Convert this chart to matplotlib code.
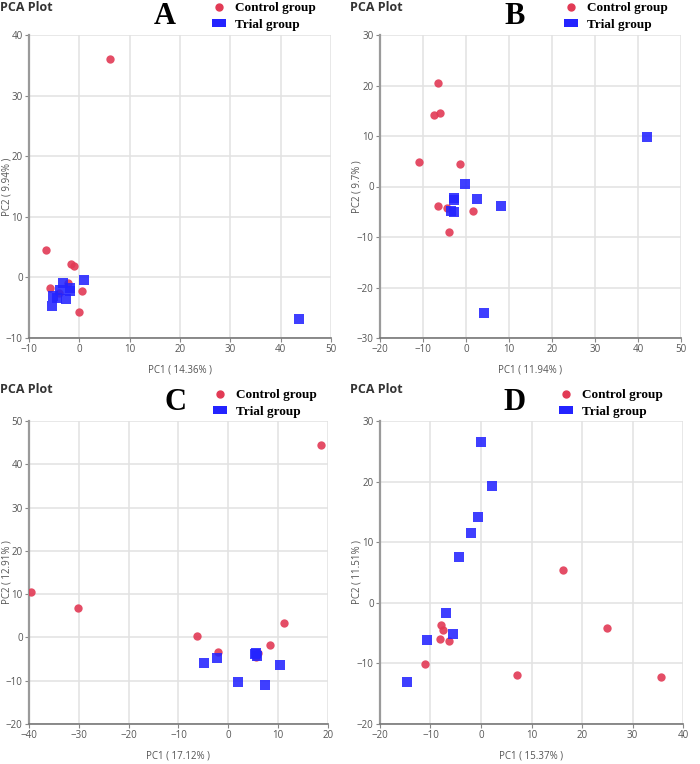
import matplotlib
matplotlib.use("Agg")
import matplotlib.pyplot as plt
from matplotlib.lines import Line2D
from matplotlib.patches import Patch

# ---------------- data ----------------
# Panel A
a_ctrl_x = [6.1, -6.7, -1.7, -1.0, -5.9, -2.3, -4.0, 0.45, -0.1]
a_ctrl_y = [36.0, 4.6, 2.2, 1.8, -1.8, -0.9, -2.6, -2.3, -5.7]
a_trial_x = [0.9, -3.2, -1.9, -1.9, -3.8, -5.2, -4.5, -2.6, -5.5, 43.6]
a_trial_y = [-0.5, -1.0, -1.8, -2.3, -2.0, -3.1, -3.4, -3.5, -4.7, -6.8]
# Panel B
b_ctrl_x = [-6.5, -7.35, -6.1, -10.9, -1.45, -6.5, -4.5, 1.65, -3.9]
b_ctrl_y = [20.5, 14.2, 14.5, 4.9, 4.4, -3.95, -4.2, -4.9, -9.1]
b_trial_x = [-0.3, -2.9, -2.9, 2.66, 8.2, -3.5, -2.7, 4.2, 42.1]
b_trial_y = [0.4, -2.2, -2.6, -2.4, -3.95, -4.8, -5.1, -25.1, 9.8]
# Panel C
c_ctrl_x = [18.5, -39.5, -30.2, -6.3, -2.1, 11.2, 8.4, 5.5, 5.95]
c_ctrl_y = [44.4, 10.45, 6.7, 0.3, -3.3, 3.4, -1.7, -4.6, -3.6]
c_trial_x = [-4.95, -2.2, 5.35, 5.8, 5.6, 10.3, 1.9, 7.4]
c_trial_y = [-6.0, -4.8, -3.8, -4.4, -3.6, -6.4, -10.4, -11.0]
# Panel D
d_ctrl_x = [16.2, 24.9, 35.6, 7.2, -7.9, -7.5, -8.2, -6.4, -11.0]
d_ctrl_y = [5.4, -4.2, -12.2, -11.9, -3.65, -4.5, -5.9, -6.3, -10.1]
d_trial_x = [0.04, 2.1, -0.5, -2.0, -4.4, -6.9, -5.6, -10.6, -14.7]
d_trial_y = [26.5, 19.2, 14.2, 11.5, 7.5, -1.7, -5.1, -6.2, -13.1]

panel_letters = ["A", "B", "C", "D"]
x_labels = ["PC1 ( 14.36% )", "PC1 ( 11.94% )", "PC1 ( 17.12% )", "PC1 ( 15.37% )"]
y_labels = ["PC2 ( 9.94% )", "PC2 ( 9.7% )", "PC2 ( 12.91% )", "PC2 ( 11.51% )"]
x_limits = [(-10, 50), (-20, 50), (-40, 20), (-20, 40)]
y_limits = [(-10, 40), (-30, 30), (-20, 50), (-20, 30)]
legend_labels = ["Control group", "Trial group"]

RED = "#e23a55"
BLUE = "#2424ff"

W, H = 700, 764
fig = plt.figure(figsize=(W / 100, H / 100), dpi=100)

# axes boxes in pixels: left, right, top, bottom
boxes = [(29, 331, 35, 338), (380, 681, 35, 338),
         (29, 328, 421, 724), (380, 683, 421, 724)]
origins = [(0, 0), (350, 0), (0, 382), (350, 382)]
letter_pos = [(165, 17), (515, 17), (175, 403), (515, 402)]
legend_pos = [(211, 1), (563, 1), (212, 388), (558, 388)]

data = [(a_ctrl_x, a_ctrl_y, a_trial_x, a_trial_y),
        (b_ctrl_x, b_ctrl_y, b_trial_x, b_trial_y),
        (c_ctrl_x, c_ctrl_y, c_trial_x, c_trial_y),
        (d_ctrl_x, d_ctrl_y, d_trial_x, d_trial_y)]

for i in range(4):
    l, r, t, b = boxes[i]
    ax = fig.add_axes([l / W, 1 - b / H, (r - l) / W, (b - t) / H])
    cx, cy, tx, ty = data[i]
    ax.scatter(cx, cy, s=36, marker="o", color=RED, alpha=0.9, linewidths=0, zorder=3)
    ax.scatter(tx, ty, s=42, marker="s", color=BLUE, alpha=0.88, linewidths=0, zorder=3)
    ax.set_xlim(*x_limits[i])
    ax.set_ylim(*y_limits[i])
    ax.set_xticks(range(x_limits[i][0], x_limits[i][1] + 1, 10))
    ax.set_yticks(range(y_limits[i][0], y_limits[i][1] + 1, 10))
    ax.grid(True, color="#e2e2e2", linewidth=1.1, zorder=0)
    ax.set_axisbelow(True)
    for s in ["top", "right"]:
        ax.spines[s].set_visible(False)
    ax.spines["left"].set_color("#9a9a9a")
    ax.spines["left"].set_linewidth(1.6)
    ax.spines["bottom"].set_color("#777777")
    ax.spines["bottom"].set_linewidth(1.2)
    ax.tick_params(axis="both", length=3, width=0.8, color="#888888",
                   labelsize=7, labelcolor="#555555", pad=1.5)
    for lab in ax.get_xticklabels() + ax.get_yticklabels():
        lab.set_family("Open Sans")
    ax.set_xlabel(x_labels[i], fontsize=7, color="#555555", family="Open Sans")
    ax.set_ylabel(y_labels[i], fontsize=7, color="#555555", family="Open Sans")
    pw, ph = r - l, b - t
    ax.xaxis.set_label_coords(0.5, -26.0 / ph)
    ax.yaxis.set_label_coords(-(l - (origins[i][0] + 13)) / pw, 0.5)

    ox, oy = origins[i]
    fig.text((ox + 0) / W, 1 - (oy + 1) / H, "PCA Plot", fontsize=9, fontweight="bold",
             color="#333333", family="Open Sans", ha="left", va="top")
    lx, ly = letter_pos[i]
    fig.text(lx / W, 1 - ly / H, panel_letters[i], fontsize=22, fontweight="bold",
             color="black", family="Liberation Serif", ha="center", va="center")

    handles = [Line2D([], [], marker="o", color=RED, ls="", markersize=5),
               Patch(facecolor=BLUE, edgecolor="none")]
    gx, gy = legend_pos[i]
    ax.legend(handles, legend_labels, loc="upper left",
              bbox_to_anchor=(gx / W, 1 - gy / H), bbox_transform=fig.transFigure,
              frameon=False, prop={"family": "Liberation Serif", "weight": "bold", "size": 9.5},
              handlelength=1.0, handleheight=0.5, handletextpad=0.7, labelspacing=0.35,
              borderaxespad=0, borderpad=0.1)

fig.savefig("out.png", dpi=100)
